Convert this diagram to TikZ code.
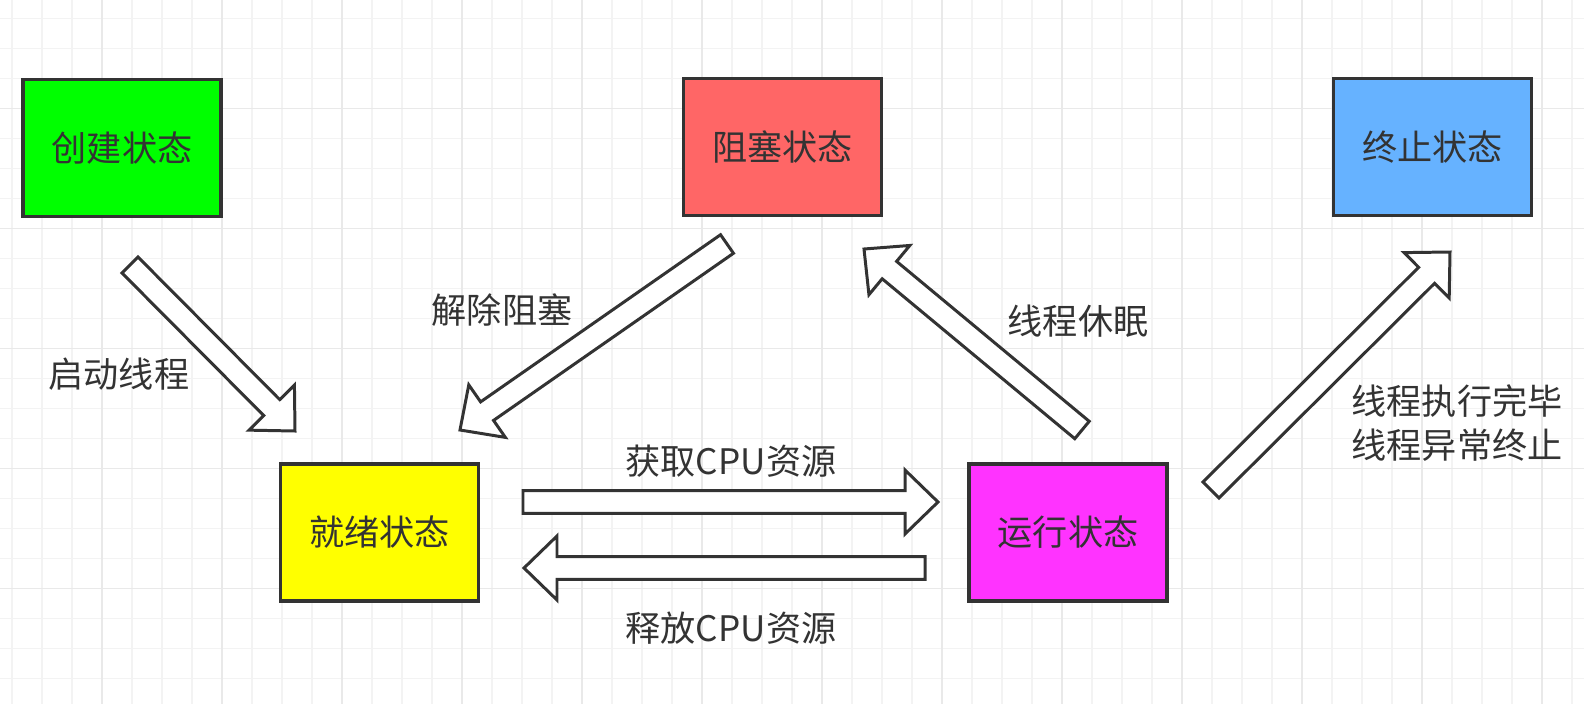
\documentclass[tikz,border=0pt]{standalone}
\usepackage{fontspec}
\setmainfont{Noto Sans CJK SC}
\usetikzlibrary{calc}

\definecolor{inkgray}{HTML}{333333}
\definecolor{minorline}{HTML}{F3F3F3}
\definecolor{majorline}{HTML}{E9E9E9}
\definecolor{createfill}{HTML}{00FF00}
\definecolor{blockfill}{HTML}{FF6666}
\definecolor{termfill}{HTML}{66B2FF}
\definecolor{readyfill}{HTML}{FFFF00}
\definecolor{runfill}{HTML}{FF33FF}

\tikzset{
  state/.style={draw=inkgray, line width=0.9pt, minimum width=1.98cm,
    minimum height=1.37cm, inner sep=0pt, text=inkgray,
    font=\fontsize{10}{12.5}\selectfont},
  tag/.style={text=inkgray, inner sep=0pt, font=\fontsize{10}{12.5}\selectfont},
  fatarrow/.style={draw=inkgray, fill=white, line width=0.85pt, line join=miter},
}

\begin{document}
\begin{tikzpicture}
    \useasboundingbox (0,0) rectangle (15.84,-7.04);
    \fill[white] (0,0) rectangle (15.84,-7.04);

    % Background grid (minor every 0.3, major every 1.2)
    \begin{scope}
      \clip (0,0) rectangle (15.84,-7.04);
      \draw[minorline, line width=0.55pt, step=0.3, shift={(0.117,-0.185)}]
        (-0.3,-7.2) grid (15.9,0.3);
      \draw[majorline, line width=0.55pt, step=1.2, shift={(1.017,-1.085)}]
        (-1.2,-6.2) grid (15.0,1.2);
    \end{scope}

    % States
    \node[state, fill=createfill] (create)  at (1.22,-1.48)   {创建状态};
    \node[state, fill=blockfill]  (blocked) at (7.825,-1.47)  {阻塞状态};
    \node[state, fill=termfill]   (term)    at (14.325,-1.47) {终止状态};
    \node[state, fill=readyfill]  (ready)   at (3.795,-5.325) {就绪状态};
    \node[state, fill=runfill]    (run)     at (10.68,-5.325) {运行状态};

    % Tail / tip of each block arrow
    \coordinate (startT) at (1.30,-2.65);  \coordinate (startH) at (2.95,-4.31);
    \coordinate (wakeT)  at (7.27,-2.44);  \coordinate (wakeH)  at (4.60,-4.30);
    \coordinate (getT)   at (5.23,-5.02);  \coordinate (getH)   at (9.38,-5.02);
    \coordinate (freeT)  at (9.25,-5.68);  \coordinate (freeH)  at (5.24,-5.68);
    \coordinate (sleepT) at (10.82,-4.30); \coordinate (sleepH) at (8.64,-2.49);
    \coordinate (endT)   at (12.11,-4.90); \coordinate (endH)   at (14.50,-2.52);

    % Block arrows
    \def\shaft{0.113cm}
    \def\headw{0.32cm}
    \def\headl{0.33cm}
    \foreach \tailpt/\tippt in {startT/startH, wakeT/wakeH, getT/getH,
                                freeT/freeH, sleepT/sleepH, endT/endH} {
      \draw[fatarrow]
        ($(\tailpt)!\shaft!90:(\tippt)$)
        -- ($(\tippt)!\headl!(\tailpt)!\shaft!90:(\tippt)$)
        -- ($(\tippt)!\headl!(\tailpt)!\headw!90:(\tippt)$)
        -- (\tippt)
        -- ($(\tippt)!\headl!(\tailpt)!\headw!-90:(\tippt)$)
        -- ($(\tippt)!\headl!(\tailpt)!\shaft!-90:(\tippt)$)
        -- ($(\tailpt)!\shaft!-90:(\tippt)$) -- cycle;
    }

    % Arrow labels
    \node[tag] (lstart) at (1.19,-3.74)  {启动线程};
    \node[tag] (lwake)  at (5.02,-3.10)  {解除阻塞};
    \node[tag] (lsleep) at (10.78,-3.21) {线程休眠};
    \node[tag] (lget)   at (7.31,-4.61)  {获取CPU资源};
    \node[tag] (lfree)  at (7.31,-6.28)  {释放CPU资源};
    \node[tag, align=left] (lend) at (14.57,-4.23) {线程执行完毕\\线程异常终止};
\end{tikzpicture}
\end{document}
